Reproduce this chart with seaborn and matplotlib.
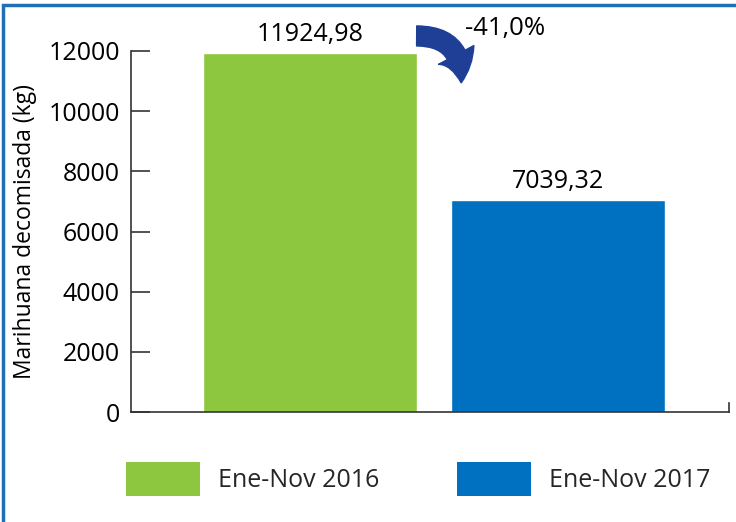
import numpy as np
import pandas as pd
import matplotlib.pyplot as plt
import seaborn as sns
from matplotlib.patches import Patch, Rectangle, FancyArrowPatch

# data
periods = ["Ene-Nov 2016", "Ene-Nov 2017"]
marihuana_kg = [11924.98, 7039.32]
value_labels = ["11924,98", "7039,32"]
change_label = "-41,0%"
bar_colors = ["#8DC63F", "#0070C0"]

sns.set_style("white")
plt.rcParams['font.family'] = ['Open Sans', 'DejaVu Sans']

df = pd.DataFrame({"periodo": periods, "kg": marihuana_kg})

fig = plt.figure(figsize=(7.36, 5.22), dpi=100)
ax = fig.add_axes([0.178, 0.2107, 0.8125, 0.6916])

sns.barplot(data=df, x="periodo", y="kg", hue="periodo", palette=bar_colors,
            width=0.863, legend=False, saturation=1, ax=ax)

ax.set_xlim(-0.72, 1.69)
ax.set_ylim(0, 12000)
ax.set_yticks(np.arange(0, 12001, 2000))
ax.tick_params(axis='y', direction='in', length=14, width=1.2, color='#333333',
               labelsize=18, labelcolor='black', pad=8, left=True)
ax.set_xticks([])
ax.set_xlabel("")
ax.set_ylabel("Marihuana decomisada (kg)", fontsize=16.5, color='black', labelpad=8)

ax.spines['top'].set_visible(False)
for side in ['left', 'bottom', 'right']:
    ax.spines[side].set_color('#333333')
    ax.spines[side].set_linewidth(1.2)
ax.spines['right'].set_bounds(0, 300)

# value labels
for i, (v, lab) in enumerate(zip(marihuana_kg, value_labels)):
    ax.text(i, v + 200, lab, ha='center', va='bottom', fontsize=18, color='black',
            clip_on=False)

# curved arrow and change label
arrow = FancyArrowPatch((0.42, 12500), (0.61, 10850),
                        connectionstyle="arc3,rad=-0.55",
                        arrowstyle="simple,head_width=2.4,head_length=1.7,tail_width=1.2",
                        mutation_scale=12, color="#1F3F96", clip_on=False)
ax.add_patch(arrow)
ax.text(0.625, 12750, change_label, ha='left', va='center', fontsize=18.5, color='black',
        clip_on=False)

# legend
handles = [Patch(facecolor=c, edgecolor='none') for c in bar_colors]
fig.legend(handles, periods, loc='center', bbox_to_anchor=(0.568, 0.082), ncol=2,
           frameon=False, fontsize=18, handlelength=2.96, handleheight=1.75,
           handletextpad=0.72, columnspacing=3.1)

# figure border
fig.patches.append(Rectangle((0.004, -0.05), 1.2, 1.05 - 0.009, transform=fig.transFigure,
                             fill=False, edgecolor='#1F6FB4', linewidth=2.5))

plt.savefig("out.png", dpi=100)
